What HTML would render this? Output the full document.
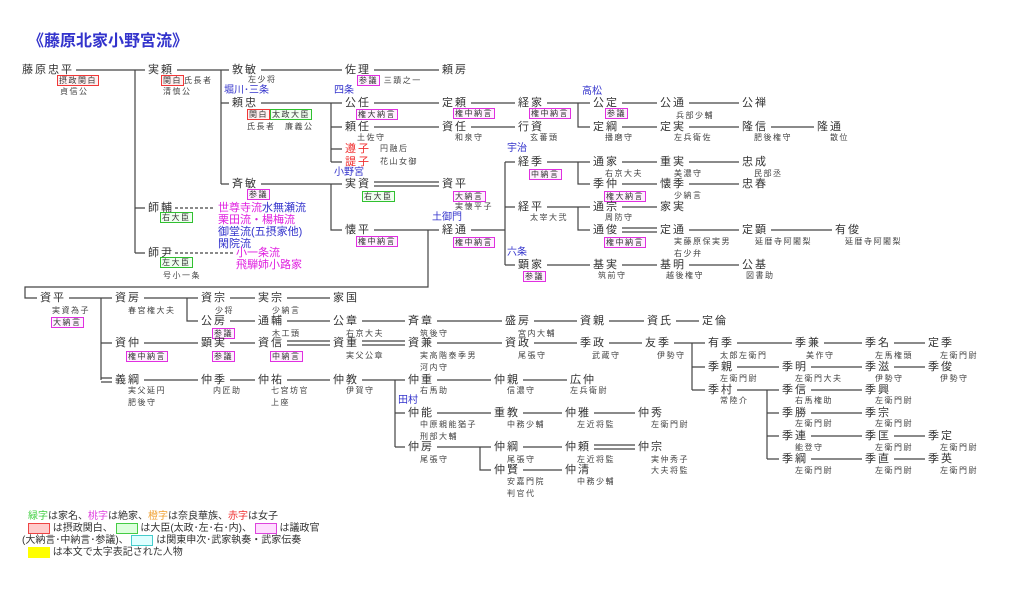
<!DOCTYPE html>
<html><head><meta charset="utf-8"><style>
body{margin:0;width:1024px;height:594px;background:#fff;position:relative;overflow:hidden;font-family:"Liberation Sans","Noto Sans CJK JP",sans-serif;color:#333;font-size:8px;line-height:10px}
div{position:absolute;white-space:nowrap}
.n{font-size:11px;letter-spacing:2px;line-height:12px;color:#333}
.s{font-size:8px;letter-spacing:1.5px;line-height:10px;color:#444}
.b{color:#3333cc;font-size:10px;line-height:12px}
.p{color:#e020e0;font-size:11px;line-height:12px}
.rd{color:#f03030}
.r,.g,.m{padding:0 1px;font-size:8px;letter-spacing:1.5px;line-height:9px;display:inline-block;color:#333}
.r{border:1px solid #f03838;background:#fff0f0}.g{border:1px solid #30c030;background:#f0fff0}.m{border:1px solid #e030e0;background:#fff0ff}
svg{position:absolute;left:0;top:0}
</style></head><body>
<svg width="1024" height="594" stroke="#444" stroke-width="1.2" fill="none">
<path d="M76 70H145M177 70H229M261 70H342M374 70H439M135 70V253M135 208H145M135 253H145M221 70V184M221 103H229M221 184H229
M261 103H342M331 103V162M331 127H342M331 149H342M331 162H342M374 103H439M471 103H515M547 103H590M578 103V127H590M622 103H657M689 103H739
M622 127H657M689 127H739M771 127H814M374 127H439M471 127H515
M261 184H342M331 184V230H342M374 230H439M471 230H505M505 162V265M505 162H515M505 207H515M505 265H515M428 230V287H25V298H37
M547 162H590M578 162V184H590M622 162H657M689 162H739M622 184H657M689 184H739
M547 207H590M578 207V230H590M622 207H657M689 230H739M771 230H832
M547 265H590M622 265H657M689 265H739
M69 298H112M101 298V380M101 343H112M144 298H198M187 298V321H198M230 298H255M287 298H330
M230 321H255M287 321H330M362 321H405M437 321H502M534 321H577M609 321H644M676 321H699
M144 343H198M230 343H255M437 343H502M534 343H577M609 343H642M674 343H705M692 343V390M692 367H705M692 390H705
M737 343H792M824 343H862M894 343H925M737 367H779M811 367H862M894 367H925M737 390H779M767 390V459M767 413H779M767 436H779M767 459H779
M811 390H862M811 413H862M811 436H862M894 436H925M811 459H862M894 459H925
M144 380H198M230 380H255M287 380H330M362 380H405M395 380V447M395 413H405M395 447H405
M437 380H491M523 380H567M437 413H491M523 413H562M594 413H635M437 447H491M480 447V470H491M523 447H562M523 470H562"/>
<path d="M374 182H439M374 186H439M622 228H657M622 232H657M287 341H330M287 345H330M362 341H405M362 345H405M594 445H635M594 449H635M101 378H112M101 382H112"/>
<path d="M175 208H215M175 253H233" stroke-dasharray="3,2"/>
</svg>
<div style="left:28px;top:32px;font-size:16px;line-height:20px;color:#3333cc;font-weight:bold">《藤原北家小野宮流》</div>

<div class="n" style="left:22px;top:64px">藤原忠平</div>
<div style="left:57px;top:75px"><span class="r">摂政関白</span></div>
<div class="s" style="left:60px;top:87px">貞信公</div>
<div class="n" style="left:148px;top:64px">実頼</div>
<div class="s" style="left:161px;top:75px"><span class="r">関白</span>氏長者</div>
<div class="s" style="left:163px;top:87px">清慎公</div>
<div class="n" style="left:232px;top:64px">敦敏</div>
<div class="s" style="left:248px;top:75px">左少将</div>
<div class="b" style="left:224px;top:85px">堀川･三条</div>
<div class="n" style="left:345px;top:64px">佐理</div>
<div class="s" style="left:357px;top:75px"><span class="m">参議</span> 三蹟之一</div>
<div class="b" style="left:334px;top:85px">四条</div>
<div class="n" style="left:442px;top:64px">頼房</div>
<div class="n" style="left:232px;top:97px">頼忠</div>
<div style="left:247px;top:109px"><span class="r">関白</span><span class="g">太政大臣</span></div>
<div class="s" style="left:247px;top:122px">氏長者　廉義公</div>
<div class="n" style="left:345px;top:97px">公任</div>
<div style="left:356px;top:109px"><span class="m">権大納言</span></div>
<div class="n" style="left:345px;top:121px">頼任</div>
<div class="s" style="left:357px;top:133px">土佐守</div>
<div class="n rd" style="left:345px;top:143px">遵子</div><div class="s" style="left:380px;top:144px">円融后</div>
<div class="n rd" style="left:345px;top:156px">諟子</div><div class="s" style="left:380px;top:157px">花山女御</div>
<div class="b" style="left:334px;top:167px">小野宮</div>
<div class="n" style="left:232px;top:178px">斉敏</div>
<div style="left:247px;top:189px"><span class="m">参議</span></div>
<div class="n" style="left:345px;top:178px">実資</div>
<div style="left:362px;top:191px"><span class="g">右大臣</span></div>
<div class="n" style="left:345px;top:224px">懐平</div>
<div style="left:356px;top:236px"><span class="m">権中納言</span></div>
<div class="n" style="left:148px;top:202px">師輔</div>
<div style="left:160px;top:212px"><span class="g">右大臣</span></div>
<div class="p" style="left:218px;top:202px">世尊寺流<span style="color:#3333cc">水無瀬流</span></div>
<div class="p" style="left:218px;top:214px">栗田流・楊梅流</div>
<div class="b" style="left:218px;top:226px;font-size:11px">御堂流(五摂家他)</div>
<div class="b" style="left:218px;top:238px;font-size:11px">閑院流</div>
<div class="n" style="left:148px;top:247px">師尹</div>
<div style="left:160px;top:257px"><span class="g">左大臣</span></div>
<div class="s" style="left:163px;top:271px">号小一条</div>
<div class="p" style="left:236px;top:247px">小一条流</div>
<div class="p" style="left:236px;top:259px">飛騨姉小路家</div>

<div class="n" style="left:442px;top:97px">定頼</div><div style="left:453px;top:108px"><span class="m">権中納言</span></div>
<div class="n" style="left:518px;top:97px">経家</div><div style="left:529px;top:108px"><span class="m">権中納言</span></div>
<div class="b" style="left:582px;top:86px">高松</div>
<div class="n" style="left:593px;top:97px">公定</div><div style="left:605px;top:108px"><span class="m">参議</span></div>
<div class="n" style="left:660px;top:97px">公通</div><div class="s" style="left:676px;top:111px">兵部少輔</div>
<div class="n" style="left:742px;top:97px">公禅</div>
<div class="n" style="left:442px;top:121px">資任</div><div class="s" style="left:455px;top:133px">和泉守</div>
<div class="n" style="left:518px;top:121px">行資</div><div class="s" style="left:530px;top:133px">玄蕃頭</div>
<div class="n" style="left:593px;top:121px">定綱</div><div class="s" style="left:605px;top:133px">播磨守</div>
<div class="n" style="left:660px;top:121px">定実</div><div class="s" style="left:674px;top:133px">左兵衛佐</div>
<div class="n" style="left:742px;top:121px">隆信</div><div class="s" style="left:754px;top:133px">肥後権守</div>
<div class="n" style="left:817px;top:121px">隆通</div><div class="s" style="left:830px;top:133px">散位</div>
<div class="b" style="left:507px;top:143px">宇治</div>
<div class="n" style="left:518px;top:156px">経季</div><div style="left:529px;top:169px"><span class="m">中納言</span></div>
<div class="n" style="left:593px;top:156px">通家</div><div class="s" style="left:605px;top:169px">右京大夫</div>
<div class="n" style="left:660px;top:156px">重実</div><div class="s" style="left:674px;top:169px">美濃守</div>
<div class="n" style="left:742px;top:156px">忠成</div><div class="s" style="left:754px;top:169px">民部丞</div>
<div class="n" style="left:593px;top:178px">季仲</div><div style="left:604px;top:191px"><span class="m">権大納言</span></div>
<div class="n" style="left:660px;top:178px">懐季</div><div class="s" style="left:674px;top:191px">少納言</div>
<div class="n" style="left:742px;top:178px">忠春</div>
<div class="n" style="left:442px;top:178px">資平</div><div style="left:453px;top:191px"><span class="m">大納言</span></div>
<div class="s" style="left:455px;top:202px">実懐平子</div>
<div class="b" style="left:432px;top:212px">土御門</div>
<div class="n" style="left:518px;top:201px">経平</div><div class="s" style="left:530px;top:213px">太宰大弐</div>
<div class="n" style="left:593px;top:201px">通宗</div><div class="s" style="left:605px;top:213px">周防守</div>
<div class="n" style="left:660px;top:201px">家実</div>
<div class="n" style="left:442px;top:224px">経通</div><div style="left:453px;top:237px"><span class="m">権中納言</span></div>
<div class="n" style="left:593px;top:224px">通俊</div><div style="left:604px;top:237px"><span class="m">権中納言</span></div>
<div class="n" style="left:660px;top:224px">定通</div><div class="s" style="left:674px;top:237px">実藤原保実男</div><div class="s" style="left:674px;top:249px">右少弁</div>
<div class="n" style="left:742px;top:224px">定顕</div><div class="s" style="left:755px;top:237px">延暦寺阿闍梨</div>
<div class="n" style="left:835px;top:224px">有俊</div><div class="s" style="left:845px;top:237px">延暦寺阿闍梨</div>
<div class="b" style="left:507px;top:247px">六条</div>
<div class="n" style="left:518px;top:259px">顕家</div><div style="left:523px;top:271px"><span class="m">参議</span></div>
<div class="n" style="left:593px;top:259px">基実</div><div class="s" style="left:598px;top:271px">筑前守</div>
<div class="n" style="left:660px;top:259px">基明</div><div class="s" style="left:666px;top:271px">越後権守</div>
<div class="n" style="left:742px;top:259px">公基</div><div class="s" style="left:746px;top:271px">図書助</div>

<div class="n" style="left:40px;top:292px">資平</div><div class="s" style="left:52px;top:306px">実資為子</div><div style="left:51px;top:317px"><span class="m">大納言</span></div>
<div class="n" style="left:115px;top:292px">資房</div><div class="s" style="left:128px;top:306px">春宮権大夫</div>
<div class="n" style="left:201px;top:292px">資宗</div><div class="s" style="left:215px;top:306px">少将</div>
<div class="n" style="left:258px;top:292px">実宗</div><div class="s" style="left:272px;top:306px">少納言</div>
<div class="n" style="left:333px;top:292px">家国</div>
<div class="n" style="left:201px;top:315px">公房</div><div style="left:212px;top:328px"><span class="m">参議</span></div>
<div class="n" style="left:258px;top:315px">通輔</div><div class="s" style="left:272px;top:329px">木工頭</div>
<div class="n" style="left:333px;top:315px">公章</div><div class="s" style="left:346px;top:329px">右京大夫</div>
<div class="n" style="left:408px;top:315px">斉章</div><div class="s" style="left:420px;top:329px">筑後守</div>
<div class="n" style="left:505px;top:315px">盛房</div><div class="s" style="left:518px;top:329px">宮内大輔</div>
<div class="n" style="left:580px;top:315px">資親</div>
<div class="n" style="left:647px;top:315px">資氏</div>
<div class="n" style="left:702px;top:315px">定倫</div>
<div class="n" style="left:115px;top:337px">資仲</div><div style="left:126px;top:351px"><span class="m">権中納言</span></div>
<div class="n" style="left:201px;top:337px">顕実</div><div style="left:212px;top:351px"><span class="m">参議</span></div>
<div class="n" style="left:258px;top:337px">資信</div><div style="left:270px;top:351px"><span class="m">中納言</span></div>
<div class="n" style="left:333px;top:337px">資重</div><div class="s" style="left:346px;top:351px">実父公章</div>
<div class="n" style="left:408px;top:337px">資兼</div><div class="s" style="left:420px;top:351px">実高階泰季男</div><div class="s" style="left:420px;top:363px">河内守</div>
<div class="n" style="left:505px;top:337px">資政</div><div class="s" style="left:518px;top:351px">尾張守</div>
<div class="n" style="left:580px;top:337px">季政</div><div class="s" style="left:592px;top:351px">武蔵守</div>
<div class="n" style="left:645px;top:337px">友季</div><div class="s" style="left:657px;top:351px">伊勢守</div>
<div class="n" style="left:708px;top:337px">有季</div><div class="s" style="left:720px;top:351px">太郎左衛門</div>
<div class="n" style="left:795px;top:337px">季兼</div><div class="s" style="left:806px;top:351px">美作守</div>
<div class="n" style="left:865px;top:337px">季名</div><div class="s" style="left:875px;top:351px">左馬権頭</div>
<div class="n" style="left:928px;top:337px">定季</div><div class="s" style="left:940px;top:351px">左衛門尉</div>
<div class="n" style="left:708px;top:361px">季親</div><div class="s" style="left:720px;top:374px">左衛門尉</div>
<div class="n" style="left:782px;top:361px">季明</div><div class="s" style="left:795px;top:374px">左衛門大夫</div>
<div class="n" style="left:865px;top:361px">季滋</div><div class="s" style="left:875px;top:374px">伊勢守</div>
<div class="n" style="left:928px;top:361px">季俊</div><div class="s" style="left:940px;top:374px">伊勢守</div>
<div class="n" style="left:708px;top:384px">季村</div><div class="s" style="left:720px;top:396px">常陸介</div>
<div class="n" style="left:782px;top:384px">季信</div><div class="s" style="left:795px;top:396px">右馬権助</div>
<div class="n" style="left:865px;top:384px">季興</div><div class="s" style="left:875px;top:396px">左衛門尉</div>
<div class="n" style="left:782px;top:407px">季勝</div><div class="s" style="left:795px;top:419px">左衛門尉</div>
<div class="n" style="left:865px;top:407px">季宗</div><div class="s" style="left:875px;top:419px">左衛門尉</div>
<div class="n" style="left:782px;top:430px">季連</div><div class="s" style="left:795px;top:443px">能登守</div>
<div class="n" style="left:865px;top:430px">季匡</div><div class="s" style="left:875px;top:443px">左衛門尉</div>
<div class="n" style="left:928px;top:430px">季定</div><div class="s" style="left:940px;top:443px">左衛門尉</div>
<div class="n" style="left:782px;top:453px">季綱</div><div class="s" style="left:795px;top:466px">左衛門尉</div>
<div class="n" style="left:865px;top:453px">季直</div><div class="s" style="left:875px;top:466px">左衛門尉</div>
<div class="n" style="left:928px;top:453px">季英</div><div class="s" style="left:940px;top:466px">左衛門尉</div>
<div class="n" style="left:115px;top:374px">義綱</div><div class="s" style="left:128px;top:386px">実父延円</div><div class="s" style="left:128px;top:398px">肥後守</div>
<div class="n" style="left:201px;top:374px">仲季</div><div class="s" style="left:213px;top:386px">内匠助</div>
<div class="n" style="left:258px;top:374px">仲祐</div><div class="s" style="left:271px;top:386px">七宮坊官</div><div class="s" style="left:271px;top:398px">上座</div>
<div class="n" style="left:333px;top:374px">仲教</div><div class="s" style="left:346px;top:386px">伊賀守</div>
<div class="n" style="left:408px;top:374px">仲重</div><div class="s" style="left:420px;top:386px">右馬助</div>
<div class="n" style="left:494px;top:374px">仲親</div><div class="s" style="left:507px;top:386px">信濃守</div>
<div class="n" style="left:570px;top:374px">広仲</div><div class="s" style="left:570px;top:386px">左兵衛尉</div>
<div class="b" style="left:398px;top:395px">田村</div>
<div class="n" style="left:408px;top:407px">仲能</div><div class="s" style="left:420px;top:420px">中原親能猶子</div><div class="s" style="left:420px;top:432px">刑部大輔</div>
<div class="n" style="left:494px;top:407px">重教</div><div class="s" style="left:507px;top:420px">中務少輔</div>
<div class="n" style="left:565px;top:407px">仲雅</div><div class="s" style="left:577px;top:420px">左近将監</div>
<div class="n" style="left:638px;top:407px">仲秀</div><div class="s" style="left:651px;top:420px">左衛門尉</div>
<div class="n" style="left:408px;top:441px">仲房</div><div class="s" style="left:420px;top:455px">尾張守</div>
<div class="n" style="left:494px;top:441px">仲綱</div><div class="s" style="left:507px;top:455px">尾張守</div>
<div class="n" style="left:565px;top:441px">仲頼</div><div class="s" style="left:577px;top:455px">左近将監</div>
<div class="n" style="left:638px;top:441px">仲宗</div><div class="s" style="left:651px;top:455px">実仲秀子</div><div class="s" style="left:651px;top:466px">大夫将監</div>
<div class="n" style="left:494px;top:464px">仲賢</div><div class="s" style="left:507px;top:477px">安嘉門院</div><div class="s" style="left:507px;top:489px">判官代</div>
<div class="n" style="left:565px;top:464px">仲清</div><div class="s" style="left:577px;top:477px">中務少輔</div>

<div style="left:28px;top:511px;font-size:10px;line-height:12px"><span style="color:#40d040">緑字</span>は家名、<span style="color:#e040e0">桃字</span>は絶家、<span style="color:#f0a030">橙字</span>は奈良華族、<span style="color:#f03030">赤字</span>は女子</div>
<div style="left:28px;top:523px;font-size:10px;line-height:12px"><span style="display:inline-block;width:20px;height:9px;background:#fcc;border:1px solid #e44;vertical-align:middle"></span> は摂政関白、 <span style="display:inline-block;width:20px;height:9px;background:#dfd;border:1px solid #4c4;vertical-align:middle"></span> は大臣(太政･左･右･内)、 <span style="display:inline-block;width:20px;height:9px;background:#fdf;border:1px solid #d4d;vertical-align:middle"></span> は議政官</div>
<div style="left:22px;top:535px;font-size:10px;line-height:12px">(大納言･中納言･参議)、 <span style="display:inline-block;width:20px;height:9px;background:#dff;border:1px solid #4cc;vertical-align:middle"></span> は関東申次･武家執奏・武家伝奏</div>
<div style="left:28px;top:547px;font-size:10px;line-height:12px"><span style="display:inline-block;width:22px;height:11px;background:#ff0;vertical-align:middle"></span> は本文で太字表記された人物</div>
</body></html>
